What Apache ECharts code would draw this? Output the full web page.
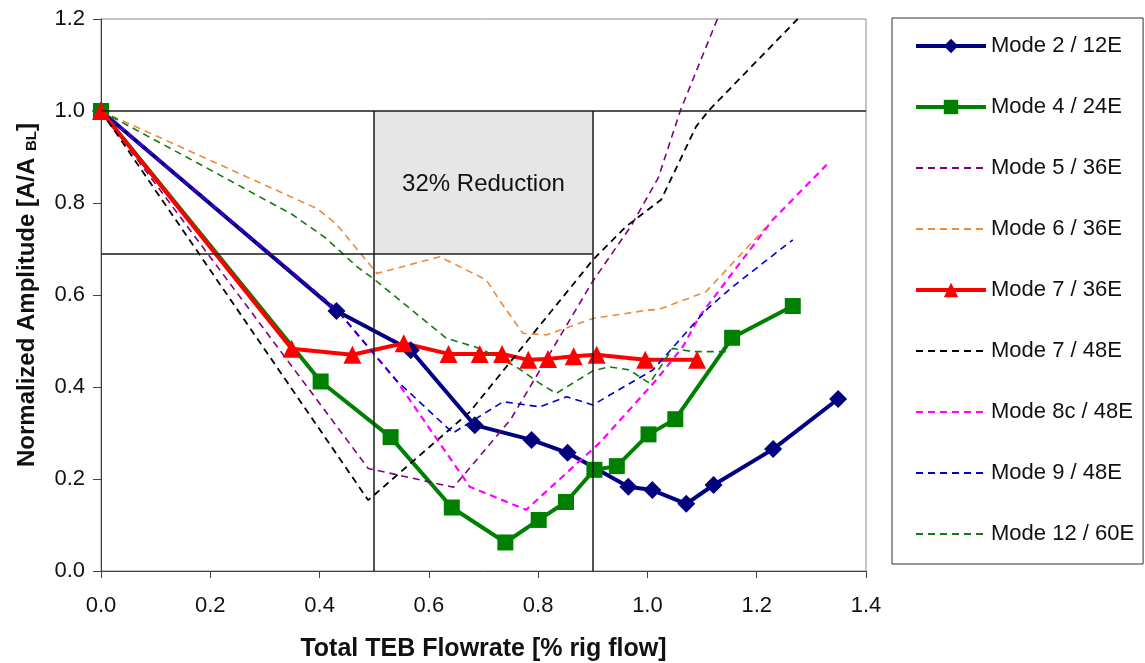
<!DOCTYPE html>
<html>
<head>
<meta charset="utf-8">
<script src="https://cdn.jsdelivr.net/npm/echarts@6/dist/echarts.min.js"></script>
<style>
  html, body { margin: 0; padding: 0; background: #ffffff; }
  #chart { width: 1145px; height: 663px; }
</style>
</head>
<body>
<div id="chart"></div>
<script>
// Normalized amplitude vs. total TEB flowrate, one x/y pair of arrays per mode
const mode2X  = [0, 0.431, 0.567, 0.684, 0.788, 0.854, 0.965, 1.009, 1.071, 1.121, 1.230, 1.349];
const mode2Y  = [1.0, 0.565, 0.480, 0.317, 0.285, 0.257, 0.183, 0.176, 0.146, 0.187, 0.265, 0.374];

const mode4X  = [0, 0.402, 0.530, 0.642, 0.740, 0.801, 0.851, 0.903, 0.944, 1.002, 1.051, 1.155, 1.266];
const mode4Y  = [1.0, 0.412, 0.291, 0.138, 0.062, 0.111, 0.150, 0.220, 0.228, 0.297, 0.330, 0.507, 0.576];

const mode5X  = [0, 0.489, 0.645, 0.750, 0.900, 0.970, 1.020, 1.060, 1.128];
const mode5Y  = [1.0, 0.223, 0.182, 0.330, 0.630, 0.750, 0.855, 1.000, 1.200];

const mode6X  = [0, 0.395, 0.430, 0.505, 0.620, 0.705, 0.729, 0.772, 0.815, 0.900, 1.000, 1.022, 1.107, 1.217];
const mode6Y  = [1.0, 0.788, 0.755, 0.647, 0.683, 0.633, 0.589, 0.517, 0.513, 0.549, 0.567, 0.569, 0.607, 0.747];

const mode7aX = [0, 0.349, 0.460, 0.554, 0.636, 0.693, 0.734, 0.782, 0.818, 0.865, 0.907, 0.996, 1.091];
const mode7aY = [1.0, 0.483, 0.470, 0.495, 0.472, 0.472, 0.472, 0.459, 0.461, 0.467, 0.470, 0.459, 0.459];

const mode7bX = [0, 0.489, 0.675, 0.900, 0.961, 1.025, 1.089, 1.113, 1.275];
const mode7bY = [1.0, 0.154, 0.346, 0.676, 0.749, 0.807, 0.966, 1.002, 1.200];

const mode8X  = [0, 0.430, 0.540, 0.675, 0.778, 0.912, 1.016, 1.065, 1.095, 1.229, 1.328];
const mode8Y  = [1.0, 0.570, 0.415, 0.183, 0.133, 0.278, 0.415, 0.488, 0.553, 0.763, 0.883];

const mode9X  = [0, 0.430, 0.540, 0.644, 0.736, 0.803, 0.852, 0.900, 1.010, 1.107, 1.156, 1.266];
const mode9Y  = [1.0, 0.570, 0.415, 0.300, 0.368, 0.357, 0.379, 0.361, 0.437, 0.567, 0.618, 0.720];

const mode12X = [0, 0.200, 0.350, 0.410, 0.470, 0.498, 0.632, 0.693, 0.760, 0.803, 0.833, 0.900, 0.930, 0.967, 1.004, 1.046, 1.083, 1.150];
const mode12Y = [1.0, 0.872, 0.775, 0.725, 0.660, 0.636, 0.506, 0.484, 0.444, 0.408, 0.386, 0.435, 0.444, 0.437, 0.408, 0.484, 0.477, 0.477];

// Target window: 32% reduction box and its bounding guide lines
const boxX = [0.5, 0.9];
const boxY = [0.69, 1.0];
const boxLabel = '32% Reduction';

const xTicks = { min: 0, max: 1.4, step: 0.2 };
const yTicks = { min: 0, max: 1.2, step: 0.2 };

const FONT = '"Liberation Sans", Arial, sans-serif';

function pairs(xs, ys) { return xs.map((x, i) => [x, ys[i]]); }

function solid(name, xs, ys, color, symbol, size) {
  return {
    name, type: 'line', data: pairs(xs, ys),
    symbol, symbolSize: size, showSymbol: true,
    lineStyle: { color, width: 4 },
    itemStyle: { color },
    emphasis: { disabled: true },
    animation: false, z: 3
  };
}

function dashed(name, xs, ys, color, width) {
  return {
    name, type: 'line', data: pairs(xs, ys),
    symbol: 'none', showSymbol: false,
    lineStyle: { color, width, type: [7, 5] },
    itemStyle: { color },
    emphasis: { disabled: true },
    animation: false, z: 3
  };
}

const guideSeries = {
  name: 'guides', type: 'line', data: [[boxX[0], boxY[1]]],
  symbol: 'none', lineStyle: { opacity: 0 }, silent: true, animation: false, z: 1,
  markArea: {
    silent: true,
    itemStyle: { color: '#e6e6e6' },
    label: {
      show: true, position: 'inside', color: '#111', fontFamily: FONT, fontSize: 24, offset: [0, 2]
    },
    data: [[{ name: boxLabel, coord: [boxX[0], boxY[0]] }, { coord: [boxX[1], boxY[1]] }]]
  },
  markLine: {
    silent: true, symbol: 'none', animation: false,
    lineStyle: { color: '#1a1a1a', width: 1.5, type: 'solid' },
    label: { show: false },
    data: [
      [{ coord: [xTicks.min, boxY[1]] }, { coord: [xTicks.max, boxY[1]] }],
      [{ coord: [xTicks.min, boxY[0]] }, { coord: [boxX[1], boxY[0]] }],
      [{ coord: [boxX[0], yTicks.min] }, { coord: [boxX[0], boxY[1]] }],
      [{ coord: [boxX[1], yTicks.min] }, { coord: [boxX[1], boxY[1]] }]
    ]
  }
};

// Drawn in legend order, so later modes sit on top of earlier ones
const series = [
  guideSeries,
  solid('Mode 2 / 12E', mode2X, mode2Y, '#000080', 'diamond', 18),
  solid('Mode 4 / 24E', mode4X, mode4Y, '#008000', 'rect', 16),
  dashed('Mode 5 / 36E', mode5X, mode5Y, '#800080', 1.6),
  dashed('Mode 6 / 36E', mode6X, mode6Y, '#ee8a3a', 1.6),
  solid('Mode 7 / 36E', mode7aX, mode7aY, '#ff0000', 'triangle', 18),
  dashed('Mode 7 / 48E', mode7bX, mode7bY, '#000000', 1.8),
  dashed('Mode 8c / 48E', mode8X, mode8Y, '#ff00ff', 2.2),
  dashed('Mode 9 / 48E', mode9X, mode9Y, '#0000cc', 1.6),
  dashed('Mode 12 / 60E', mode12X, mode12Y, '#127a12', 1.6)
];

const solidNames = ['Mode 2 / 12E', 'Mode 4 / 24E', 'Mode 7 / 36E'];
const legendNames = ['Mode 2 / 12E', 'Mode 4 / 24E', 'Mode 5 / 36E', 'Mode 6 / 36E', 'Mode 7 / 36E',
                     'Mode 7 / 48E', 'Mode 8c / 48E', 'Mode 9 / 48E', 'Mode 12 / 60E'];

// Solid modes keep a thick line with their marker; dashed modes show only the dashed line
const legendData = legendNames.map(name => solidNames.includes(name)
  ? { name, lineStyle: { width: 4 } }
  : { name, itemStyle: { opacity: 0 } });

const chart = echarts.init(document.getElementById('chart'), null, { renderer: 'canvas' });
chart.setOption({
  backgroundColor: '#ffffff',
  animation: false,
  textStyle: { fontFamily: FONT },
  grid: {
    left: 101, right: 279, top: 19, bottom: 92,
    outerBoundsMode: 'none',
    show: true, borderColor: '#8c8c8c', borderWidth: 1, backgroundColor: 'transparent'
  },
  legend: {
    data: legendData,
    orient: 'vertical',
    left: 892, top: 18,
    padding: [16, 9, 18, 22],
    itemGap: 37,
    itemWidth: 70, itemHeight: 18,
    borderColor: '#333', borderWidth: 1, backgroundColor: '#ffffff',
    textStyle: { fontFamily: FONT, fontSize: 22, color: '#111', lineHeight: 24 },
    selectedMode: false
  },
  xAxis: {
    type: 'value', min: xTicks.min, max: xTicks.max, interval: xTicks.step,
    name: 'Total TEB Flowrate [% rig flow]', nameLocation: 'middle', nameGap: 66,
    nameTextStyle: { fontFamily: FONT, fontSize: 25, fontWeight: 'bold', color: '#111' },
    axisLine: { show: true, onZero: false, lineStyle: { color: '#404040', width: 1 } },
    axisTick: { show: true, length: 7, lineStyle: { color: '#404040' } },
    axisLabel: { fontFamily: FONT, fontSize: 22, color: '#111', margin: 24,
                 formatter: v => v.toFixed(1) },
    splitLine: { show: false }
  },
  yAxis: {
    type: 'value', min: yTicks.min, max: yTicks.max, interval: yTicks.step,
    name: 'Normalized Amplitude [A/A {sub|BL}]', nameLocation: 'middle', nameGap: 62,
    nameTextStyle: { fontFamily: FONT, fontSize: 24, fontWeight: 'bold', color: '#111',
      rich: { sub: { fontFamily: FONT, fontSize: 15, fontWeight: 'bold', color: '#111',
                     verticalAlign: 'bottom', padding: [6, 0, 0, 0] } } },
    axisLine: { show: true, onZero: false, lineStyle: { color: '#404040', width: 1 } },
    axisTick: { show: true, length: 8, lineStyle: { color: '#404040' } },
    axisLabel: { fontFamily: FONT, fontSize: 22, color: '#111', margin: 16,
                 formatter: v => v.toFixed(1) },
    splitLine: { show: false }
  },
  series
});
</script>
</body>
</html>
